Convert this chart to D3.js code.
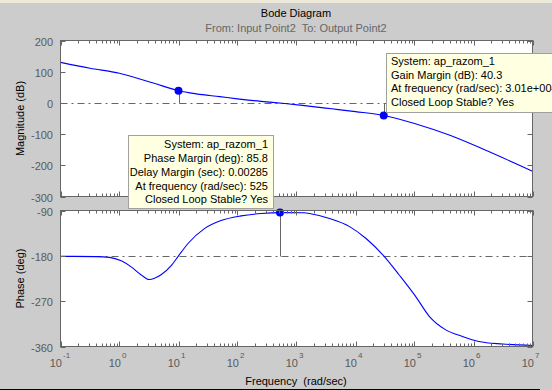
<!DOCTYPE html>
<html><head><meta charset="utf-8">
<script src="https://cdn.jsdelivr.net/npm/d3@7"></script>
<style>
html,body{margin:0;padding:0;background:#cccccc;}
svg{display:block;font-family:"Liberation Sans",Arial,sans-serif;}
</style></head>
<body>
<svg id="c" width="552" height="390"></svg>
<script>
// ---- data ----
const magFreq = [0.1, 0.316, 1, 2, 3.98, 10, 20, 50, 100, 251, 631, 1260, 3980, 10000, 30100, 100000, 398000, 1410000, 1e7];
const magDb   = [130, 111, 95, 79, 62, 39, 29, 20, 13, 5, -2, -8, -19, -28, -40.3, -66, -104, -147, -219];
const phFreq  = [0.1, 0.398, 0.676, 1.07, 1.58, 2.34, 3.16, 5.13, 7.59, 10, 14.5, 27.5, 52.5, 115, 251, 525, 1350, 1660, 3630, 7940, 15100, 30100, 55000, 105000, 178000, 339000, 646000, 1230000, 3090000, 1e7];
const phDeg   = [-181, -181.5, -183, -190, -202, -218, -227, -217, -199, -180, -155.5, -126, -110, -100.7, -96, -94.2, -94.5, -96, -106, -122, -145.5, -180, -218, -261, -300, -327, -340, -350, -355, -358];
const magTicks = [200, 100, 0, -100, -200, -300];
const phTicks  = [-90, -180, -270, -360];
const decades  = [-1, 0, 1, 2, 3, 4, 5, 6, 7];
const pmMarkMag = {f: 10, v: 39};
const pmMarkPh  = {f: 525, v: -94.2};
const gmMarkMag = {f: 30100, v: -40.3};
const gmLines = ["System: ap_razom_1", "Gain Margin (dB): 40.3", "At frequency (rad/sec): 3.01e+004", "Closed Loop Stable? Yes"];
const pmLines = ["System: ap_razom_1", "Phase Margin (deg): 85.8", "Delay Margin (sec): 0.00285", "At frequency (rad/sec): 525", "Closed Loop Stable? Yes"];

const svg = d3.select("#c");
const axC = "#666666", txtC = "#5a5a5a";
const x = d3.scaleLog().domain([0.1, 1e7]).range([60.5, 532.5]);
const yM = d3.scaleLinear().domain([-300, 200]).range([196.5, 40.5]);
const yP = d3.scaleLinear().domain([-360, -90]).range([346.5, 210.5]);

// window chrome
svg.append("rect").attr("x",0).attr("y",0).attr("width",552).attr("height",390).attr("fill","#cccccc");
svg.append("rect").attr("x",0).attr("y",0).attr("width",552).attr("height",3).attr("fill","#ece9d8");
svg.append("line").attr("x1",0).attr("x2",540).attr("y1",389.5).attr("y2",389.5).attr("stroke","#000");

// titles
svg.append("text").attr("x",296).attr("y",17).attr("text-anchor","middle").attr("font-size",11).attr("fill","#000").text("Bode Diagram");
svg.append("text").attr("x",296).attr("y",32).attr("text-anchor","middle").attr("font-size",11).attr("fill","#666").text("From: Input Point2  To: Output Point2").style("white-space","pre");

function panel(y, dashVal) {
  const [y0, y1] = y.range(); // bottom, top
  const g = svg.append("g");
  g.append("rect").attr("x",60.5).attr("y",y1).attr("width",472).attr("height",y0-y1).attr("fill","#fff");
  g.append("line").attr("x1",60.5).attr("x2",532.5).attr("y1",Math.round(y(dashVal))+0.5).attr("y2",Math.round(y(dashVal))+0.5)
    .attr("stroke",axC).attr("stroke-dasharray","7,4,2,4");
  return g;
}
function frame(y, ticks) {
  const [y0, y1] = y.range();
  const g = svg.append("g").attr("stroke",axC).attr("fill","none");
  g.append("rect").attr("x",60.5).attr("y",y1).attr("width",472).attr("height",y0-y1);
  x.ticks().forEach(t => {
    const lg = Math.log10(t), major = Math.abs(lg - Math.round(lg)) < 1e-9;
    const len = major ? 5 : 3, xx = Math.round(x(t)) + 0.5;
    g.append("line").attr("x1",xx).attr("x2",xx).attr("y1",y0).attr("y2",y0-len);
    g.append("line").attr("x1",xx).attr("x2",xx).attr("y1",y1).attr("y2",y1+len);
  });
  ticks.forEach(t => {
    const yy = Math.round(y(t)) + 0.5;
    g.append("line").attr("x1",60.5).attr("x2",65.5).attr("y1",yy).attr("y2",yy);
    g.append("line").attr("x1",532.5).attr("x2",527.5).attr("y1",yy).attr("y2",yy);
    svg.append("text").attr("x",53).attr("y",yy+4).attr("text-anchor","end").attr("font-size",11).attr("fill",txtC).text(t);
  });
}

const line = (y) => d3.line().x(d => x(d[0])).y(d => y(d[1])).curve(d3.curveMonotoneX);

// magnitude
panel(yM, 0);
const magData = magFreq.map((f,i) => [f, magDb[i]]);
svg.append("line").attr("x1",Math.round(x(pmMarkMag.f))+0.5).attr("x2",Math.round(x(pmMarkMag.f))+0.5)
  .attr("y1",yM(pmMarkMag.v)).attr("y2",Math.round(yM(0))+0.5).attr("stroke",axC);
svg.append("line").attr("x1",Math.round(x(gmMarkMag.f))+0.5).attr("x2",Math.round(x(gmMarkMag.f))+0.5)
  .attr("y1",yM(gmMarkMag.v)).attr("y2",Math.round(yM(0))+0.5).attr("stroke",axC);
svg.append("path").attr("d",line(yM)(magData)).attr("fill","none").attr("stroke","#0000ff").attr("stroke-width",1.1);
[pmMarkMag, gmMarkMag].forEach(m => svg.append("circle").attr("cx",x(m.f)).attr("cy",yM(m.v)).attr("r",4).attr("fill","#0000ff"));
frame(yM, magTicks);

// phase
panel(yP, -180);
const phData = phFreq.map((f,i) => [f, phDeg[i]]);
svg.append("line").attr("x1",Math.round(x(pmMarkPh.f))+0.5).attr("x2",Math.round(x(pmMarkPh.f))+0.5)
  .attr("y1",yP(pmMarkPh.v)).attr("y2",Math.round(yP(-180))+0.5).attr("stroke",axC);
svg.append("path").attr("d",line(yP)(phData)).attr("fill","none").attr("stroke","#0000ff").attr("stroke-width",1.1);
svg.append("circle").attr("cx",x(pmMarkPh.f)).attr("cy",yP(pmMarkPh.v)).attr("r",4).attr("fill","#0000ff");
frame(yP, phTicks);

// x tick labels
decades.forEach(e => {
  const xx = x(Math.pow(10, e));
  svg.append("text").attr("x",xx+1.5).attr("y",366.5).attr("text-anchor","end").attr("font-size",11).attr("fill",txtC).text("10");
  svg.append("text").attr("x",xx+2.5).attr("y",357.5).attr("text-anchor","start").attr("font-size",8).attr("fill",txtC).text(e);
});

// axis labels
svg.append("text").attr("x",296).attr("y",385).attr("text-anchor","middle").attr("font-size",11).attr("fill","#000")
  .style("white-space","pre").text("Frequency  (rad/sec)");
svg.append("text").attr("transform","translate(24,118.5) rotate(-90)").attr("text-anchor","middle").attr("font-size",11).attr("fill","#000").text("Magnitude (dB)");
svg.append("text").attr("transform","translate(24,278.5) rotate(-90)").attr("text-anchor","middle").attr("font-size",11).attr("fill","#000").text("Phase (deg)");

// data tips
svg.append("rect").attr("x",386.5).attr("y",53.5).attr("width",180).attr("height",59).attr("fill","#ffffe1").attr("stroke","#a0a0a0");
gmLines.forEach((s,i) => svg.append("text").attr("x",391).attr("y",65 + i*13.7).attr("font-size",11).attr("fill","#000").text(s));
svg.append("rect").attr("x",128.5).attr("y",135.5).attr("width",145).attr("height",73).attr("fill","#ffffe1").attr("stroke","#a0a0a0");
pmLines.forEach((s,i) => svg.append("text").attr("x",268).attr("y",148 + i*13.85).attr("text-anchor","end").attr("font-size",11).attr("fill","#000").text(s));
</script>
</body></html>
